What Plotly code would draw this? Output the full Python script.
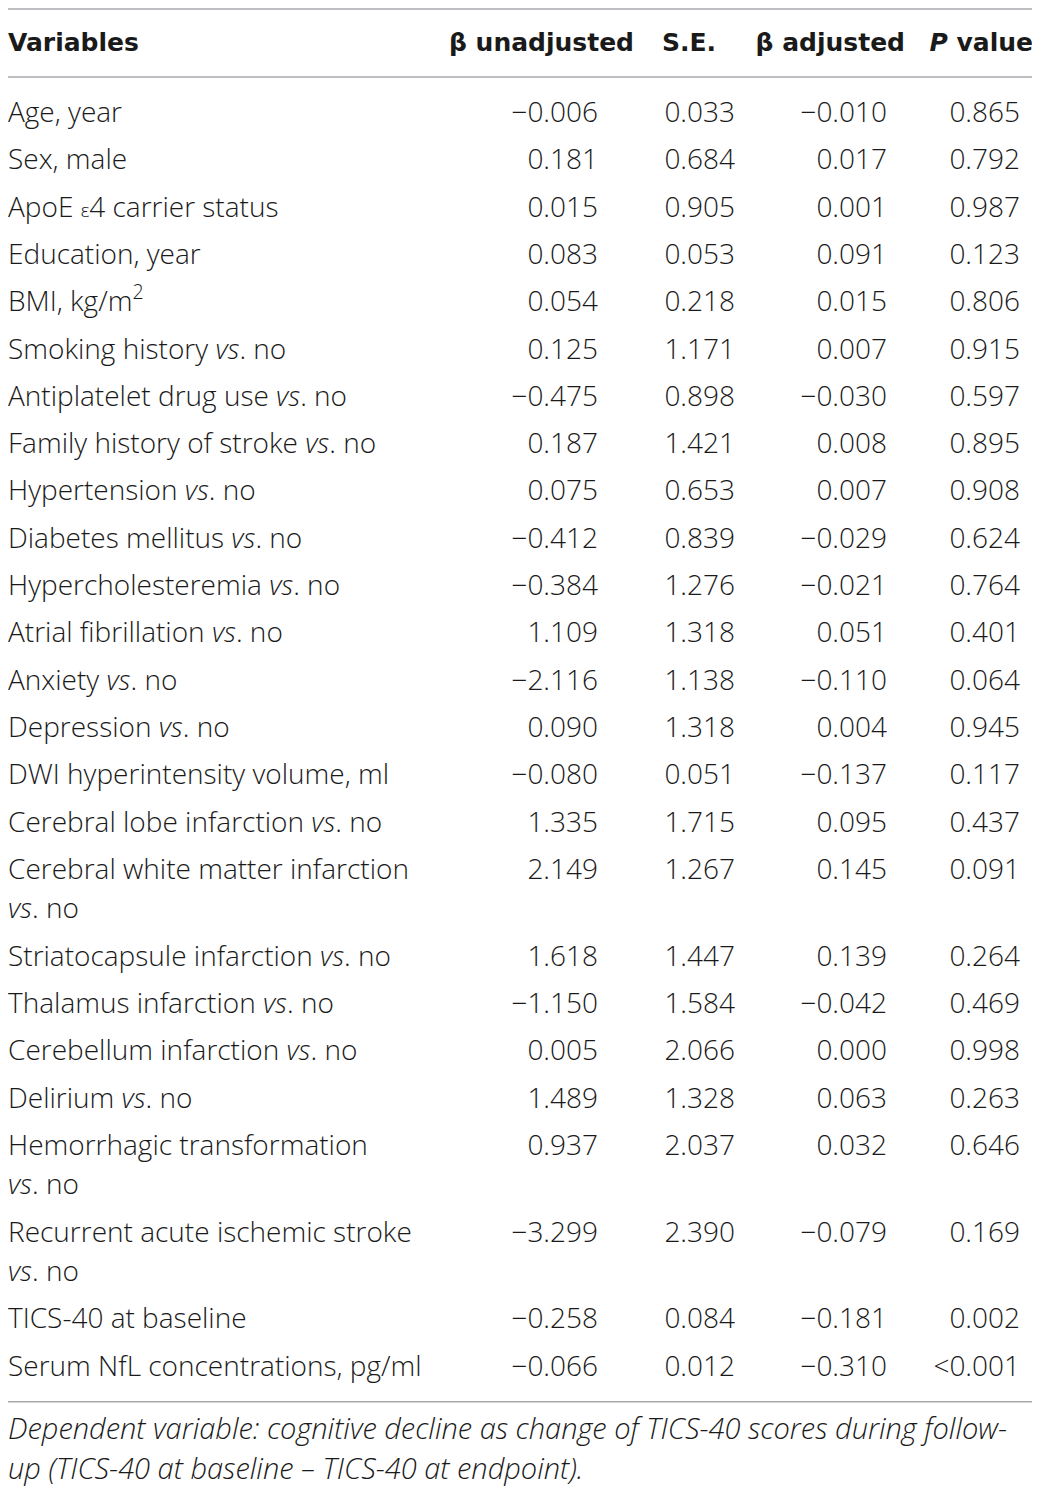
import plotly.graph_objects as go

# table content
VS = "<i>vs</i>. no"
variables = [
    "Age, year",
    "Sex, male",
    "ApoE <span style='font-size:19px'>ε</span>4 carrier status",
    "Education, year",
    "BMI, kg/m<sup>2</sup>",
    "Smoking history " + VS,
    "Antiplatelet drug use " + VS,
    "Family history of stroke " + VS,
    "Hypertension " + VS,
    "Diabetes mellitus " + VS,
    "Hypercholesteremia " + VS,
    "Atrial fibrillation " + VS,
    "Anxiety " + VS,
    "Depression " + VS,
    "DWI hyperintensity volume, ml",
    "Cerebral lobe infarction " + VS,
    "Cerebral white matter infarction<br>" + VS,
    "Striatocapsule infarction " + VS,
    "Thalamus infarction " + VS,
    "Cerebellum infarction " + VS,
    "Delirium " + VS,
    "Hemorrhagic transformation<br>" + VS,
    "Recurrent acute ischemic stroke<br>" + VS,
    "TICS-40 at baseline",
    "Serum NfL concentrations, pg/ml",
]
beta_unadjusted = [-0.006, 0.181, 0.015, 0.083, 0.054, 0.125, -0.475, 0.187, 0.075, -0.412,
                   -0.384, 1.109, -2.116, 0.090, -0.080, 1.335, 2.149, 1.618, -1.150, 0.005,
                   1.489, 0.937, -3.299, -0.258, -0.066]
se = [0.033, 0.684, 0.905, 0.053, 0.218, 1.171, 0.898, 1.421, 0.653, 0.839,
      1.276, 1.318, 1.138, 1.318, 0.051, 1.715, 1.267, 1.447, 1.584, 2.066,
      1.328, 2.037, 2.390, 0.084, 0.012]
beta_adjusted = [-0.010, 0.017, 0.001, 0.091, 0.015, 0.007, -0.030, 0.008, 0.007, -0.029,
                 -0.021, 0.051, -0.110, 0.004, -0.137, 0.095, 0.145, 0.139, -0.042, 0.000,
                 0.063, 0.032, -0.079, -0.181, -0.310]
p_values = [0.865, 0.792, 0.987, 0.123, 0.806, 0.915, 0.597, 0.895, 0.908, 0.624,
            0.764, 0.401, 0.064, 0.945, 0.117, 0.437, 0.091, 0.264, 0.469, 0.998,
            0.263, 0.646, 0.169, 0.002, "<0.001"]
headers = ["<b>Variables</b>", "<b>β unadjusted</b>", "<b>S.E.</b>", "<b>β adjusted</b>", "<b><i>P</i> value</b>"]
footnote = [
    "Dependent variable: cognitive decline as change of TICS-40 scores during follow-",
    "up (TICS-40 at baseline – TICS-40 at endpoint).",
]

# layout constants (page pixels; the page body adds an 8px margin)
W, H = 1040, 1488
PAD = 8
FONT = "Open Sans"
HFONT = "DejaVu Sans"
TXT = "#1a1a1a"
RULE = "#a7a9ac"
x_label = 8
x_cols = [598, 735, 887, 1020]          # right edges of value columns
x_heads = [634, 716, 905, 1033]         # right edges of header texts
y_head = 42
y_first = 112
row_h = 47.3
line_h = 39.5
dy = 3                                   # text glyph centre sits a bit above its anchor
body = dict(family=FONT, size=28, color=TXT, weight=300)


def fmt(v):
    if isinstance(v, str):
        return v
    return f"{v:.3f}".replace("-", "\u2212")


# row positions from number of lines
row_y, line_y, line_txt = [], [], []
y = y_first
for v in variables:
    parts = v.split("<br>")
    row_y.append(y)
    for k, p in enumerate(parts):
        line_y.append(y + k * line_h)
        line_txt.append(p)
    y += row_h + line_h * (len(parts) - 1)
y_last = row_y[-1]

fig = go.Figure()

# header
fig.add_trace(go.Scatter(x=[x_label], y=[y_head + dy], text=[headers[0]], mode="text",
                         textposition="middle right", cliponaxis=False, hoverinfo="skip",
                         textfont=dict(family=HFONT, size=25, color=TXT)))
fig.add_trace(go.Scatter(x=x_heads, y=[y_head + dy] * 4, text=headers[1:], mode="text",
                         textposition="middle left", cliponaxis=False, hoverinfo="skip",
                         textfont=dict(family=HFONT, size=25, color=TXT)))

# variable labels
fig.add_trace(go.Scatter(x=[x_label] * len(line_y), y=[v + dy for v in line_y], text=line_txt,
                         mode="text", textposition="middle right", cliponaxis=False,
                         hoverinfo="skip", textfont=body))

# value columns
for xc, col in zip(x_cols, [beta_unadjusted, se, beta_adjusted, p_values]):
    fig.add_trace(go.Scatter(x=[xc] * len(col), y=[v + dy for v in row_y], text=[fmt(v) for v in col],
                             mode="text", textposition="middle left", cliponaxis=False,
                             hoverinfo="skip", textfont=body))

# footnote
fig.add_trace(go.Scatter(x=[x_label] * len(footnote),
                         y=[y_last + 63 + dy + k * 40 for k in range(len(footnote))],
                         text=footnote, mode="text", textposition="middle right", cliponaxis=False,
                         hoverinfo="skip",
                         textfont=dict(family=FONT, size=29, color=TXT, style="italic", weight=300)))

# horizontal rules
for yr in [9, y_first - 35, y_last + 36]:
    fig.add_shape(type="line", xref="paper", x0=0, x1=1, yref="y", y0=yr, y1=yr,
                  line=dict(color=RULE, width=1.5))

fig.update_xaxes(range=[PAD, W], visible=False, fixedrange=True)
fig.update_yaxes(range=[H, PAD], visible=False, fixedrange=True)
fig.update_layout(width=W - PAD, height=H - PAD, margin=dict(l=0, r=0, t=0, b=0),
                  plot_bgcolor="white", paper_bgcolor="white", showlegend=False)

fig.write_html("out.html")
